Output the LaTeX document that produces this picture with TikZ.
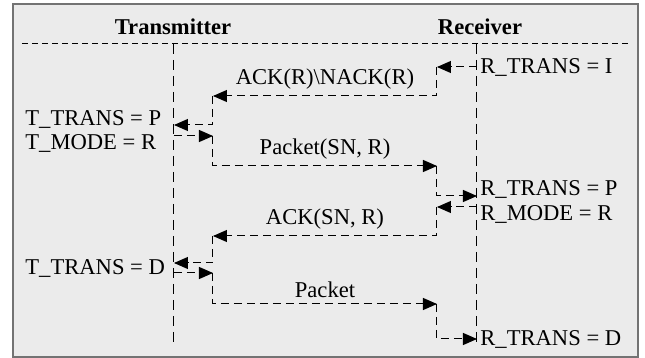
\documentclass[tikz,border=0pt]{standalone}
\usepackage{fontspec}
\setmainfont{Liberation Serif}
\usetikzlibrary{arrows.meta}
\begin{document}
\begin{tikzpicture}[x=0.5pt,y=-0.5pt,
  every node/.style = {font=\fontsize{11.3}{13}\selectfont, inner sep=0pt},
  head/.style = {font=\fontsize{11.3}{13}\selectfont\bfseries},
  statetext/.style = {anchor=west},
  msg/.style = {dash pattern=on 4pt off 2.5pt, line width=0.5pt,
    -{Triangle[length=7pt,width=6pt]}},
  life/.style = {dash pattern=on 5pt off 3pt, line width=0.5pt},
  msgtext/.style = {pos=0.75, above=3pt}]
  \useasboundingbox (0,0) rectangle (645,358);
  \draw[black!55, line width=1pt, fill=black!8] (13,4) rectangle (638,357);
  \node[head] (txhead) at (173,27) {Transmitter};
  \node[head] (rxhead) at (480,27) {Receiver};
  \coordinate (hl) at (22,44);
  \coordinate (hr) at (628,44);
  \draw[dash pattern=on 3pt off 2pt, line width=0.5pt] (hl) -- (hr);
  \coordinate (tx top) at (174,44);
  \coordinate (tx bot) at (174,342);
  \coordinate (rx top) at (477,44);
  \coordinate (rx bot) at (477,345);
  \draw[life] (tx top) -- (tx bot);
  \draw[life] (rx top) -- (rx bot);

  \node[statetext] (rtransi) at (480,67) {R\_TRANS = I};
  \node[statetext] (ttransp) at (25,119) {T\_TRANS = P};
  \node[statetext] (tmode) at (25,143) {T\_MODE = R};
  \node[statetext] (rtransp) at (480,189) {R\_TRANS = P};
  \node[statetext] (rmode) at (480,214) {R\_MODE = R};
  \node[statetext] (ttransd) at (25,268) {T\_TRANS = D};
  \node[statetext] (rtransd) at (480,339) {R\_TRANS = D};

  \coordinate (nack0) at (477,67);
  \coordinate (nack1) at (437,67);
  \coordinate (nack2) at (213,96);
  \coordinate (nack3) at (174,125);
  \draw[msg] (nack0) -- (nack1);
  \draw[msg] (nack1) |- node[msgtext] (nacktext) {ACK(R)\textbackslash NACK(R)} (nack2);
  \draw[msg] (nack2) |- (nack3);

  \coordinate (pktr0) at (174,136);
  \coordinate (pktr1) at (213,136);
  \coordinate (pktr2) at (437,166);
  \coordinate (pktr3) at (477,196);
  \draw[msg] (pktr0) -- (pktr1);
  \draw[msg] (pktr1) |- node[msgtext] (pktrtext) {Packet(SN, R)} (pktr2);
  \draw[msg] (pktr2) |- (pktr3);

  \coordinate (ack0) at (477,207);
  \coordinate (ack1) at (437,207);
  \coordinate (ack2) at (213,236);
  \coordinate (ack3) at (174,263);
  \draw[msg] (ack0) -- (ack1);
  \draw[msg] (ack1) |- node[msgtext] (acktext) {ACK(SN, R)} (ack2);
  \draw[msg] (ack2) |- (ack3);

  \coordinate (pkt0) at (174,273);
  \coordinate (pkt1) at (213,273);
  \coordinate (pkt2) at (437,304);
  \coordinate (pkt3) at (477,339);
  \draw[msg] (pkt0) -- (pkt1);
  \draw[msg] (pkt1) |- node[msgtext] (pkttext) {Packet} (pkt2);
  \draw[msg] (pkt2) |- (pkt3);
\end{tikzpicture}
\end{document}
